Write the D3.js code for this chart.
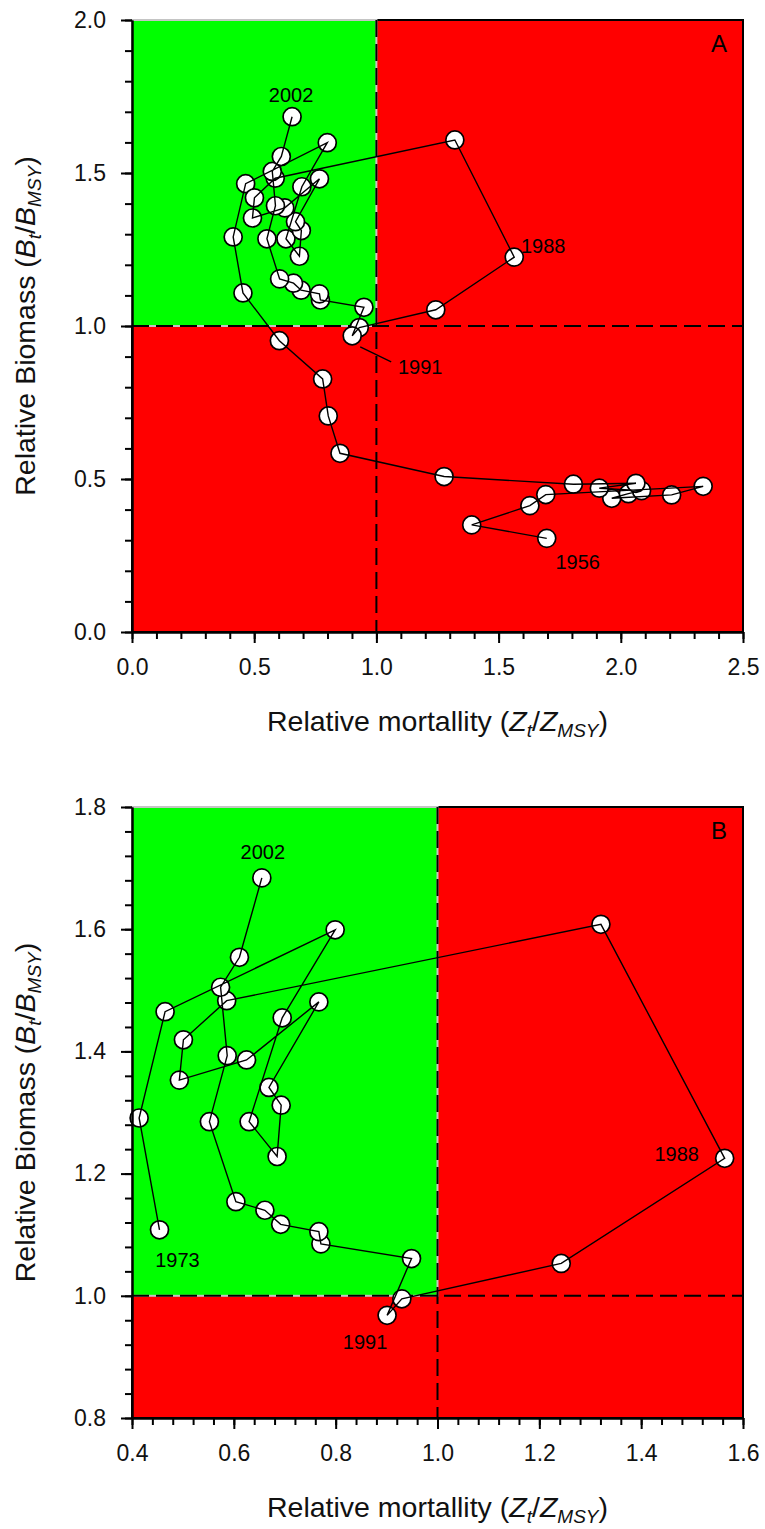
<!DOCTYPE html>
<html>
<head>
<meta charset="utf-8">
<script src="https://cdn.jsdelivr.net/npm/d3@7"></script>
<style>
  html, body { margin: 0; padding: 0; background: #fff; }
  svg { display: block; font-family: "Liberation Sans", Arial, sans-serif; }
</style>
</head>
<body>
<svg id="chart" width="765" height="1529"></svg>
<script>
// Stock trajectory: relative mortality (Z/Zmsy) and relative biomass (B/Bmsy) by year
const years = [1956, 1957, 1958, 1959, 1960, 1961, 1962, 1963, 1964, 1965,
               1966, 1967, 1968, 1969, 1970, 1971, 1972, 1973, 1974, 1975,
               1976, 1977, 1978, 1979, 1980, 1981, 1982, 1983, 1984, 1985,
               1986, 1987, 1988, 1989, 1990, 1991, 1992, 1993, 1994, 1995,
               1996, 1997, 1998, 1999, 2000, 2001, 2002];
const mortality = [1.697, 1.390, 1.628, 1.693, 2.337, 2.208, 1.963, 2.031, 2.085, 1.912,
                   2.062, 1.806, 1.277, 0.851, 0.803, 0.780, 0.603, 0.454, 0.414, 0.465,
                   0.799, 0.695, 0.630, 0.685, 0.693, 0.669, 0.767, 0.625, 0.493, 0.501,
                   0.586, 1.321, 1.564, 1.243, 0.930, 0.901, 0.949, 0.771, 0.767, 0.692,
                   0.661, 0.604, 0.552, 0.587, 0.574, 0.611, 0.655];
const biomass = [0.306, 0.350, 0.413, 0.449, 0.476, 0.448, 0.437, 0.452, 0.462, 0.470,
                 0.486, 0.483, 0.508, 0.584, 0.706, 0.827, 0.952, 1.108, 1.291, 1.465,
                 1.599, 1.455, 1.285, 1.228, 1.312, 1.341, 1.481, 1.386, 1.353, 1.419,
                 1.483, 1.608, 1.225, 1.053, 0.995, 0.968, 1.061, 1.085, 1.105, 1.117,
                 1.140, 1.154, 1.285, 1.393, 1.505, 1.554, 1.684];

// Axis tick labels
const xTicksA = [0.0, 0.5, 1.0, 1.5, 2.0, 2.5];
const yTicksA = [0.0, 0.5, 1.0, 1.5, 2.0];
const xTicksB = [0.4, 0.6, 0.8, 1.0, 1.2, 1.4, 1.6];
const yTicksB = [0.8, 1.0, 1.2, 1.4, 1.6, 1.8];

// Annotated years
const labelYearsA = [2002, 1988, 1991, 1956];
const labelYearsB = [2002, 1988, 1973, 1991];
const firstYearB = 1973;
const msyLevel = 1.0;

const rows = years.map((yr, i) => ({ year: yr, z: mortality[i], b: biomass[i] }));
const svg = d3.select("#chart");
const FONT = '"Liberation Sans", Arial, sans-serif';

function drawPanel(cfg) {
  const x = d3.scaleLinear().domain(cfg.xDomain).range([cfg.left, cfg.right]);
  const y = d3.scaleLinear().domain(cfg.yDomain).range([cfg.bottom, cfg.top]);
  const g = svg.append("g");

  // overfished / overfishing zone (whole plot), with frame
  g.append("rect")
    .attr("x", cfg.left).attr("y", cfg.top)
    .attr("width", cfg.right - cfg.left).attr("height", cfg.bottom - cfg.top)
    .attr("fill", "#ff0000").attr("stroke", "#000").attr("stroke-width", 2);

  // sustainable zone: Z < Zmsy and B > Bmsy
  g.append("rect")
    .attr("x", x(cfg.xDomain[0])).attr("y", y(cfg.yDomain[1]))
    .attr("width", x(msyLevel) - x(cfg.xDomain[0]))
    .attr("height", y(msyLevel) - y(cfg.yDomain[1]))
    .attr("fill", "#00ff00").attr("stroke", "#c4c4c4").attr("stroke-width", 2);

  // MSY reference lines
  g.append("line")
    .attr("x1", x(msyLevel)).attr("x2", x(msyLevel))
    .attr("y1", cfg.top).attr("y2", cfg.bottom)
    .attr("stroke", "#000").attr("stroke-width", 2).attr("stroke-dasharray", "17,7");
  g.append("line")
    .attr("x1", cfg.left).attr("x2", cfg.right)
    .attr("y1", y(msyLevel)).attr("y2", y(msyLevel))
    .attr("stroke", "#000").attr("stroke-width", 2).attr("stroke-dasharray", "17,7");

  // yearly points, with the connecting path drawn over them
  g.append("g").selectAll("circle").data(cfg.data).join("circle")
    .attr("cx", d => x(d.z)).attr("cy", d => y(d.b)).attr("r", 9)
    .attr("fill", "#fff").attr("stroke", "#000").attr("stroke-width", 1.7);
  g.append("path").datum(cfg.data)
    .attr("d", d3.line().x(d => x(d.z)).y(d => y(d.b)))
    .attr("fill", "none").attr("stroke", "#000").attr("stroke-width", 1.4);

  // year annotations
  const byYear = new Map(cfg.data.map(d => [d.year, d]));
  cfg.labels.forEach(yr => {
    const d = byYear.get(yr);
    const off = cfg.labelOffsets[yr];
    g.append("text")
      .attr("x", x(d.z) + off[0]).attr("y", y(d.b) + off[1]).attr("dy", "0.35em")
      .attr("text-anchor", "middle").attr("font-size", 20).attr("fill", "#000")
      .text(yr);
    if (off[2]) {
      const l = off[2];
      g.append("line")
        .attr("x1", x(d.z) + l[0]).attr("y1", y(d.b) + l[1])
        .attr("x2", x(d.z) + l[2]).attr("y2", y(d.b) + l[3])
        .attr("stroke", "#000").attr("stroke-width", 1.3);
    }
  });

  // panel letter
  g.append("text")
    .attr("x", cfg.right - 24).attr("y", cfg.top + 24).attr("dy", "0.35em")
    .attr("text-anchor", "middle").attr("font-size", 24).text(cfg.letter);

  // axes: major and minor ticks
  const fmt = d3.format(".1f");
  const xMinor = d3.range(cfg.xDomain[0], cfg.xDomain[1] + 1e-9, cfg.minorX);
  const yMinor = d3.range(cfg.yDomain[0], cfg.yDomain[1] + 1e-9, cfg.minorY);

  const xAxisMinor = g.append("g").attr("transform", `translate(0,${cfg.bottom})`)
    .call(d3.axisBottom(x).tickValues(xMinor).tickSize(7).tickSizeOuter(0).tickFormat(""));
  const yAxisMinor = g.append("g").attr("transform", `translate(${cfg.left},0)`)
    .call(d3.axisLeft(y).tickValues(yMinor).tickSize(7).tickSizeOuter(0).tickFormat(""));
  const xAxis = g.append("g").attr("transform", `translate(0,${cfg.bottom})`)
    .call(d3.axisBottom(x).tickValues(cfg.xTicks).tickSize(11).tickSizeOuter(0)
      .tickPadding(16).tickFormat(fmt));
  const yAxis = g.append("g").attr("transform", `translate(${cfg.left},0)`)
    .call(d3.axisLeft(y).tickValues(cfg.yTicks).tickSize(11).tickSizeOuter(0)
      .tickPadding(15).tickFormat(fmt));

  [xAxisMinor, yAxisMinor, xAxis, yAxis].forEach(a => {
    a.selectAll("path, line").attr("stroke", "#000").attr("stroke-width", 2);
    a.selectAll("text").attr("font-size", 23).attr("font-family", FONT).attr("fill", "#111");
  });

  // axis titles
  const xt = g.append("text")
    .attr("x", (cfg.left + cfg.right) / 2).attr("y", cfg.bottom + 99)
    .attr("text-anchor", "middle").attr("font-size", 28.5).attr("fill", "#111");
  addTitle(xt, "Relative mortallity", "Z");

  const yt = g.append("text")
    .attr("transform", `translate(35,${(cfg.top + cfg.bottom) / 2}) rotate(-90)`)
    .attr("text-anchor", "middle").attr("font-size", 28.5).attr("fill", "#111");
  addTitle(yt, "Relative Biomass", "B");
}

function addTitle(t, words, sym) {
  t.append("tspan").text(words + " (");
  t.append("tspan").attr("font-style", "italic").text(sym);
  t.append("tspan").attr("font-style", "italic").attr("font-size", 19).attr("dy", 6).text("t");
  t.append("tspan").attr("dy", -6).text("/");
  t.append("tspan").attr("font-style", "italic").text(sym);
  t.append("tspan").attr("font-style", "italic").attr("font-size", 19).attr("dy", 6).text("MSY");
  t.append("tspan").attr("dy", -6).text(")");
}

drawPanel({
  letter: "A",
  data: rows,
  xDomain: [0, 2.5], yDomain: [0, 2],
  xTicks: xTicksA, yTicks: yTicksA,
  minorX: 0.1, minorY: 0.1,
  left: 132, right: 743, top: 20, bottom: 632,
  labels: labelYearsA,
  labelOffsets: {
    2002: [-1, -22],
    1988: [29, -11],
    1991: [68, 31, [8, 11, 39, 26]],
    1956: [31, 24]
  }
});

drawPanel({
  letter: "B",
  data: rows.filter(d => d.year >= firstYearB),
  xDomain: [0.4, 1.6], yDomain: [0.8, 1.8],
  xTicks: xTicksB, yTicks: yTicksB,
  minorX: 0.04, minorY: 0.04,
  left: 132, right: 743, top: 807, bottom: 1418,
  labels: labelYearsB,
  labelOffsets: {
    2002: [1, -26],
    1988: [-48, -4],
    1973: [18, 30],
    1991: [-22, 27]
  }
});
</script>
</body>
</html>
